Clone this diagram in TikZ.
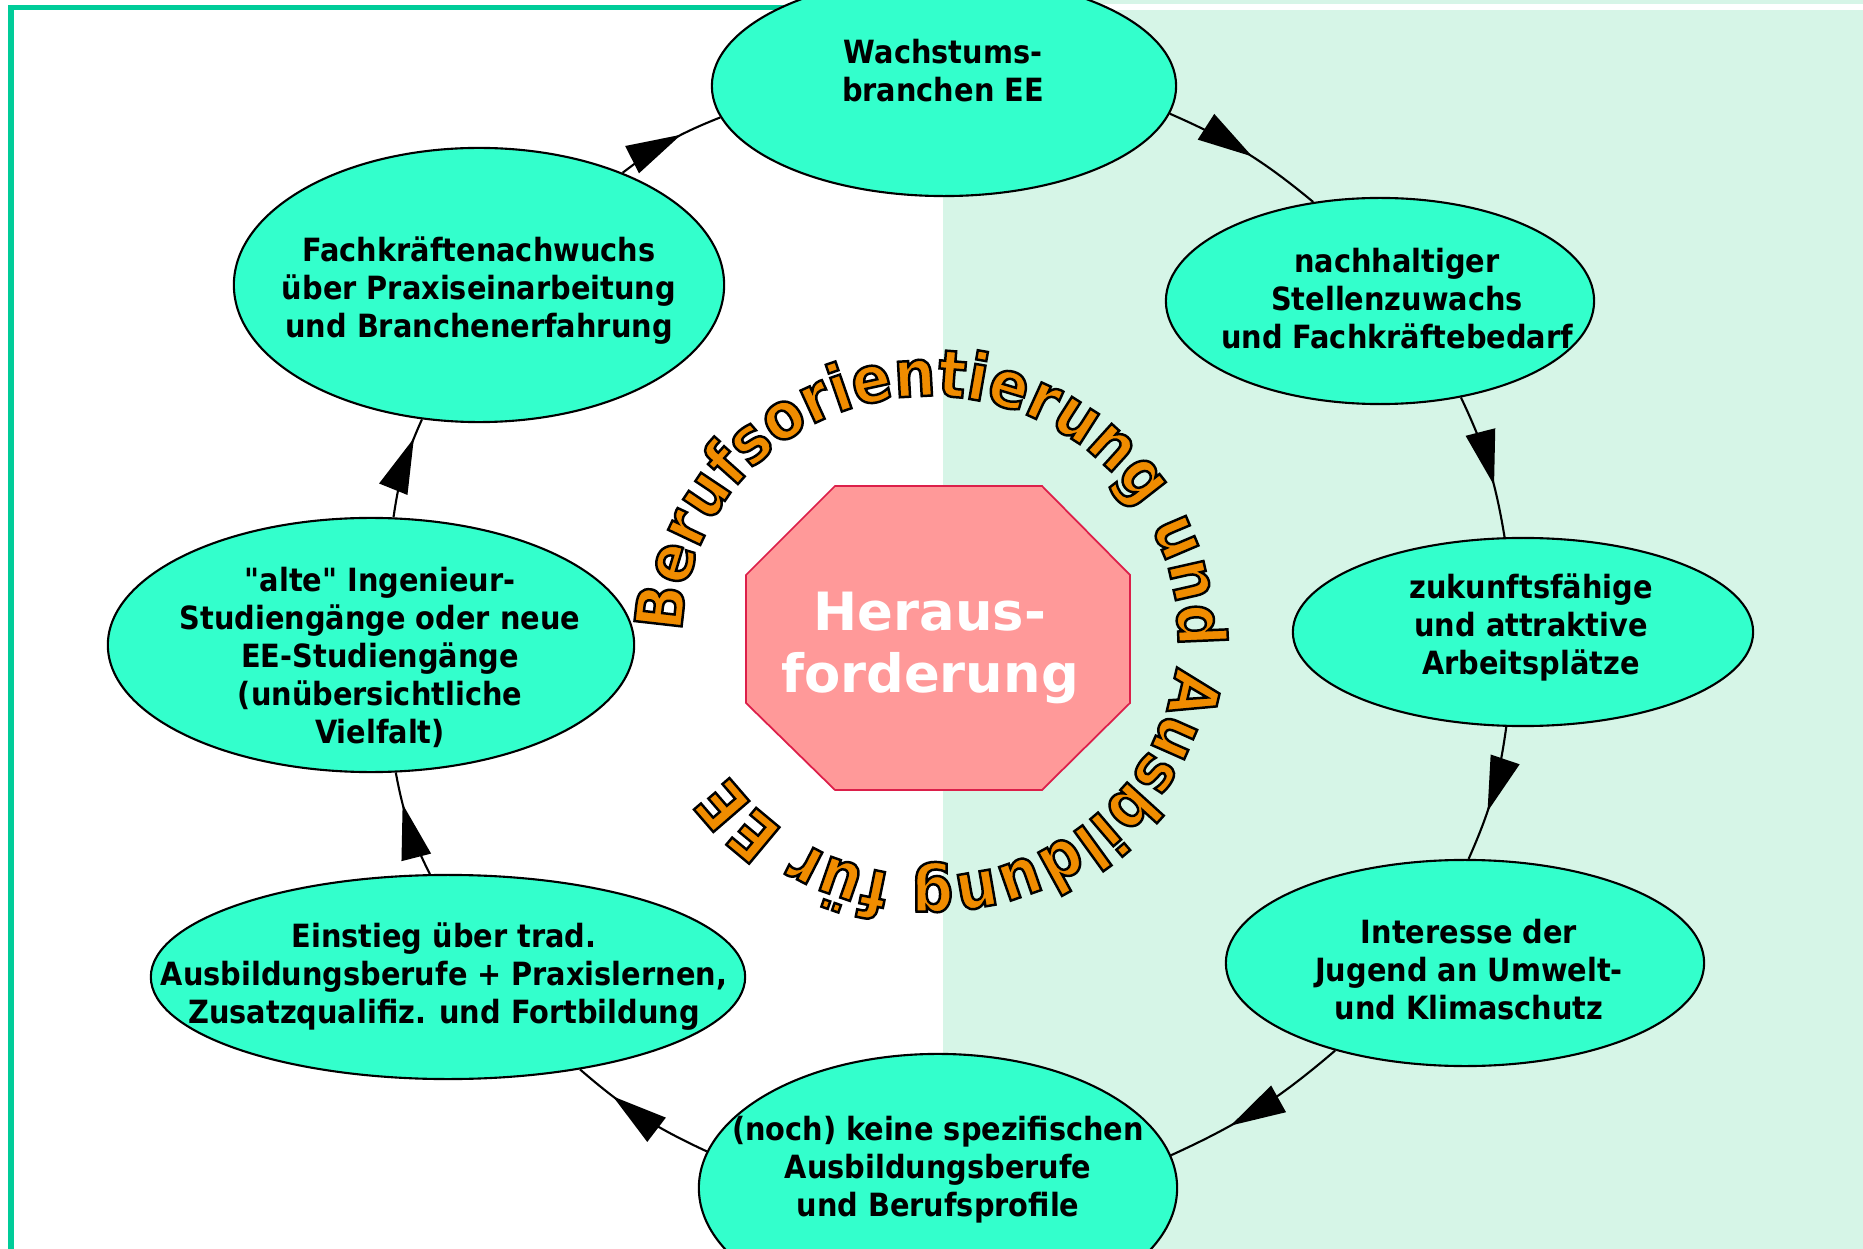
\documentclass[tikz,border=0pt]{standalone}
\usepackage{fontspec}
\setmainfont{DejaVu Sans}
\newfontfamily\bubfont{DejaVu Sans Condensed}[BoldFont={DejaVu Sans Condensed Bold}]
\usetikzlibrary{shapes.geometric,arrows.meta,decorations.markings,decorations.text}

\definecolor{bubfill}{HTML}{33FFCC}
\definecolor{framegreen}{HTML}{00CC99}
\definecolor{palegreen}{HTML}{D6F5E7}
\definecolor{octfill}{HTML}{FF9999}
\definecolor{octline}{HTML}{DC1F4A}
\definecolor{ringorange}{HTML}{F08C00}

% black outline round the orange ring letters
\newcommand\ringoutline{\special{pdf:literal direct 0 0 0 RG 2 Tr 0.7 w}}

\begin{document}
\begin{tikzpicture}[x=0.01cm, y=0.01cm,
  bubble/.style={ellipse, draw=black, line width=0.6pt, fill=bubfill, inner sep=0pt},
  bubtext/.style={font=\bubfont\bfseries\fontsize{9.1}{10.8}\selectfont, align=center, inner sep=0pt},
  flow/.style={line width=0.6pt},
  midarrow/.style={postaction={decorate}, decoration={markings,
    mark=at position #1 with {\arrow{Triangle[length=5.5mm, width=3mm]}}}}]

\useasboundingbox (0,0) rectangle (1863,-1249);

% BACKGROUND
\fill[palegreen] (943,0) rectangle (1863,-1249);
\draw[white, line width=0.06cm] (943,-7) -- (1863,-7);
\draw[framegreen, line width=0.055cm] (11,-1249) -- (11,-7.5) -- (943,-7.5);

% CENTRE
\draw[octline, fill=octfill, line width=0.5pt]
  (835,-486) -- (1042,-486) -- (1130,-575) -- (1130,-703)
  -- (1042,-790) -- (835,-790) -- (746,-703) -- (746,-575) -- cycle;
\node[text=white, align=center, font=\bfseries\fontsize{15}{17.6}\selectfont] (heraus) at (930,-648) {Heraus-\\forderung};

% RING TEXT
\path[decorate, decoration={text along path, text align=left,
  text={|\bubfont\bfseries\fontsize{18.5}{18.5}\selectfont\color{ringorange}\ringoutline|Berufsorientierung und Ausbildung für EE}}]
  (930,-636) ++(179:248 and 240) arc[start angle=179, end angle=-181, x radius=248, y radius=240];

% BUBBLES
\node[bubble, minimum width=4.64cm, minimum height=2.2cm] (wachs) at (944,-86) {};
\node[bubtext] (wachs-t) at (943,-71) {Wachstums-\\branchen EE};

\node[bubble, minimum width=4.28cm, minimum height=2.06cm] (zuwachs) at (1380,-301) {};
\node[bubtext] (zuwachs-t) at (1397,-299) {nachhaltiger\\Stellenzuwachs\\und Fachkräftebedarf};

\node[bubble, minimum width=4.6cm, minimum height=1.88cm] (arbeit) at (1523,-632) {};
\node[bubtext] (arbeit-t) at (1531,-627) {zukunftsfähige\\und attraktive\\Arbeitsplätze};

\node[bubble, minimum width=4.78cm, minimum height=2.06cm] (jugend) at (1465,-963) {};
\node[bubtext] (jugend-t) at (1469,-970) {Interesse der\\Jugend an Umwelt-\\und Klimaschutz};

\node[bubble, minimum width=4.78cm, minimum height=2.68cm] (profil) at (938,-1188) {};
\node[bubtext] (profil-t) at (938,-1170) {(noch) keine spezifischen\\Ausbildungsberufe\\und Berufsprofile};

\node[bubble, minimum width=5.94cm, minimum height=2.04cm] (einstieg) at (448,-977) {};
\node[bubtext] (einstieg-t) at (444,-977) {Einstieg über trad.\\Ausbildungsberufe + Praxislernen,\\Zusatzqualifiz. und Fortbildung};

\node[bubble, minimum width=5.26cm, minimum height=2.54cm] (studium) at (371,-645) {};
\node[bubtext] (studium-t) at (380,-657) {"alte" Ingenieur-\\Studiengänge oder neue\\EE-Studiengänge\\(unübersichtliche\\Vielfalt)};

\node[bubble, minimum width=4.9cm, minimum height=2.74cm] (nachwuchs) at (479,-285) {};
\node[bubtext] (nachwuchs-t) at (479,-291) {Fachkräftenachwuchs\\über Praxiseinarbeitung\\und Branchenerfahrung};

% CONNECTORS
\draw[flow, midarrow=0.55] (wachs.-7) to[bend left=8] (zuwachs.124);
\draw[flow, midarrow=0.64] (zuwachs.-50) to[bend left=8] (arbeit.101);
\draw[flow, midarrow=0.63] (arbeit.-100) to[bend left=8] (jugend.88);
\draw[flow, midarrow=0.66] (jugend.-146) to[bend left=8] (profil.8);
\draw[flow, midarrow=0.72] (profil.171) to[bend left=8] (einstieg.-35);
\draw[flow, midarrow=0.7] (einstieg.100) to[bend left=8] (studium.-79);
\draw[flow, midarrow=0.8] (studium.80) to[bend left=8] (nachwuchs.-113);
\draw[flow, midarrow=0.62] (nachwuchs.38) to[bend left=8] (wachs.-172);

\end{tikzpicture}
\end{document}
